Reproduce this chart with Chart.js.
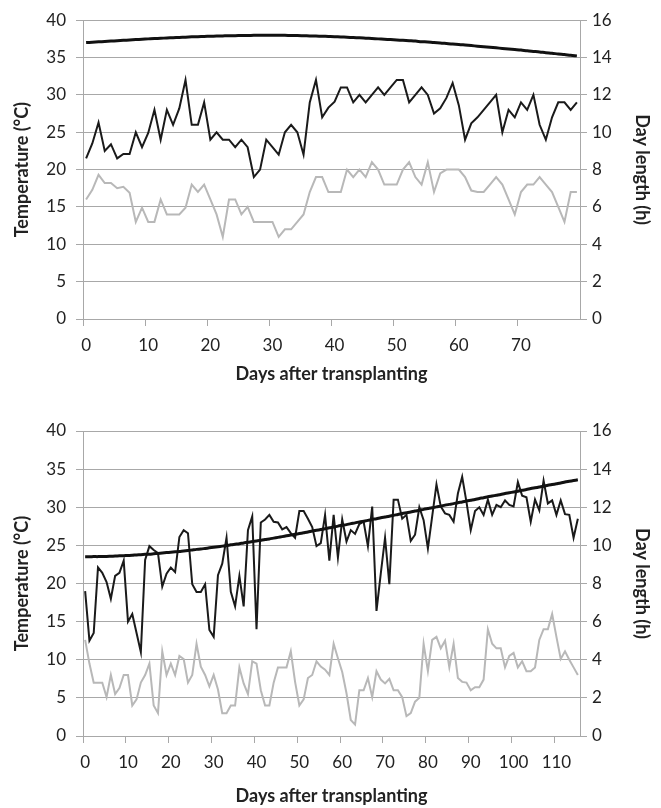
<!DOCTYPE html>
<html>
<head>
<meta charset="utf-8">
<script src="https://cdn.jsdelivr.net/npm/chart.js@4.4.1/dist/chart.umd.min.js"></script>
<style>
  html, body { margin: 0; padding: 0; background: #fff; }
  .box { position: absolute; left: 0; width: 661px; height: 404px; }
</style>
</head>
<body>
<div class="box" style="top:0"><canvas id="chartTop"></canvas></div>
<div class="box" style="top:404px"><canvas id="chartBottom"></canvas></div>
<script>
// top panel: 80 days
const days1 = Array.from({length: 80}, (_, i) => i);
const tickLabels1 = [0, 10, 20, 30, 40, 50, 60, 70];
const maxTemp1 = [21.5, 23.5, 26.3, 22.5, 23.4, 21.5, 22.1, 22.1, 25, 23,
  24.9, 28, 24, 28, 26, 28.2, 32, 26, 26, 29,
  24, 25, 24, 24, 23, 24, 23, 19, 20, 24,
  23, 22, 25, 26, 25, 22, 29, 32, 27, 28.3,
  29.1, 31, 31, 29, 30, 29, 30, 31, 30, 31,
  32, 32, 29, 30, 31, 30, 27.5, 28.2, 29.6, 31.6,
  28.6, 24, 26.2, 27, 28, 29, 30, 25, 28, 27,
  29, 28, 30, 26, 24, 27, 29, 29, 28, 29];
const minTemp1 = [16, 17.3, 19.3, 18.2, 18.2, 17.5, 17.7, 16.9, 13, 14.9,
  13, 13, 16, 14, 14, 14, 14.9, 18, 17, 18,
  16, 14, 11, 16, 16, 14, 15, 13, 13, 13,
  13, 11, 12, 12, 13, 14, 17, 19, 19, 17,
  17, 17, 20, 19, 20, 19, 21, 20, 18, 18,
  18, 20, 21, 19, 18, 21, 17, 19.5, 20, 20,
  20, 19, 17.2, 17, 17, 18, 19, 18, 16, 14,
  17, 18, 18, 19, 18, 17, 15, 13, 17, 17];
const dayLen1 = [14.80, 14.82, 14.84, 14.86, 14.88, 14.90, 14.92, 14.94, 14.96, 14.98,
  15.00, 15.02, 15.03, 15.05, 15.06, 15.08, 15.09, 15.11, 15.12, 15.13,
  15.14, 15.15, 15.16, 15.17, 15.17, 15.18, 15.18, 15.19, 15.19, 15.19,
  15.19, 15.19, 15.19, 15.18, 15.18, 15.17, 15.16, 15.15, 15.14, 15.13,
  15.12, 15.10, 15.09, 15.07, 15.06, 15.04, 15.02, 15.00, 14.98, 14.96,
  14.94, 14.92, 14.90, 14.88, 14.85, 14.83, 14.80, 14.78, 14.75, 14.72,
  14.70, 14.67, 14.64, 14.61, 14.58, 14.55, 14.52, 14.49, 14.46, 14.43,
  14.40, 14.36, 14.33, 14.30, 14.26, 14.23, 14.19, 14.16, 14.12, 14.09];

// bottom panel: 116 days
const days2 = Array.from({length: 116}, (_, i) => i);
const tickLabels2 = [0, 10, 20, 30, 40, 50, 60, 70, 80, 90, 100, 110];
const maxTemp2 = [19, 12.5, 13.5, 22.1, 21.4, 20.2, 18, 21, 21.4, 23,
  15, 16, 13.5, 11, 23.1, 24.9, 24.4, 24, 19.6, 21.3,
  22.1, 21.5, 26.1, 27, 26.6, 19.9, 18.9, 18.9, 19.9, 13.9,
  13, 21.1, 22.6, 26, 18.9, 17, 21, 17, 27, 28.8,
  14, 28, 28.4, 29, 28.1, 28, 27.1, 27.4, 26.6, 26,
  29.5, 29.5, 28.5, 27.4, 24.9, 25.3, 29, 23, 29, 23.4,
  28.4, 25.5, 27, 26.5, 27.8, 28.1, 24.9, 30.1, 16.4, 21.3,
  26, 19.9, 31, 31, 28.5, 29, 25.6, 26.4, 30, 28.3,
  24.6, 28.8, 33, 30.1, 29.2, 29, 28.1, 31.8, 34, 30.7,
  27, 29.5, 30, 29, 31, 29, 30.3, 30, 30.9, 30.3,
  30.1, 33.3, 31.5, 31.3, 28.1, 31, 29.6, 33.5, 30.5, 30.9,
  29, 30.9, 29.1, 29, 26, 28.5];
const minTemp2 = [12.6, 9.5, 7, 7, 7, 5.1, 8, 5.5, 6.3, 8,
  8, 4, 4.8, 7, 8, 9.5, 4, 3, 11.1, 8,
  9.5, 8, 10.5, 10.1, 7, 8, 12.1, 9.1, 8, 6.5,
  8, 6.1, 3, 3, 4, 4, 9, 6.9, 5.5, 9.8,
  9.5, 6, 4, 4, 7, 9, 9, 9, 11.1, 7.1,
  4, 4.8, 7.6, 8, 9.8, 9.1, 8.7, 8, 12.1, 10.2,
  8.4, 5.6, 2.1, 1.5, 6, 6, 7.6, 5.1, 8.5, 7.4,
  6.9, 7.5, 6, 6, 5.1, 2.6, 3, 4.5, 5, 12.1,
  8.5, 12.6, 13, 11.5, 12.5, 9, 12.1, 7.6, 7.1, 7,
  6, 6.4, 6.4, 7.4, 14, 12.1, 11.5, 11.5, 9, 10.5,
  10.9, 9, 9.8, 8.5, 8.5, 9, 12.6, 14, 14, 16,
  13, 10.1, 11.1, 10, 9, 8];
const dayLen2 = [9.40, 9.40, 9.41, 9.41, 9.42, 9.42, 9.43, 9.44, 9.45, 9.46,
  9.47, 9.48, 9.50, 9.51, 9.53, 9.54, 9.56, 9.58, 9.60, 9.62,
  9.64, 9.66, 9.68, 9.71, 9.73, 9.76, 9.79, 9.81, 9.84, 9.87,
  9.90, 9.93, 9.96, 9.99, 10.03, 10.06, 10.09, 10.13, 10.16, 10.20,
  10.23, 10.27, 10.31, 10.34, 10.38, 10.42, 10.46, 10.50, 10.54, 10.58,
  10.62, 10.66, 10.70, 10.75, 10.79, 10.83, 10.87, 10.92, 10.96, 11.01,
  11.05, 11.09, 11.14, 11.18, 11.23, 11.27, 11.31, 11.36, 11.40, 11.45,
  11.49, 11.53, 11.58, 11.62, 11.67, 11.71, 11.75, 11.80, 11.84, 11.89,
  11.93, 11.97, 12.02, 12.06, 12.11, 12.15, 12.19, 12.24, 12.28, 12.33,
  12.37, 12.41, 12.46, 12.50, 12.55, 12.59, 12.63, 12.67, 12.72, 12.76,
  12.80, 12.84, 12.89, 12.93, 12.98, 13.02, 13.06, 13.10, 13.15, 13.19,
  13.23, 13.27, 13.32, 13.36, 13.40, 13.44];

const gridColor = '#a8a8a8';
const textColor = '#222';
const fontFamily = 'Lato, "Liberation Sans", sans-serif';

function makeChart(id, days, tickLabels, maxT, minT, dayLen, padTop, xHeight, titlePadBottom) {
  const ctx = document.getElementById(id).getContext('2d');
  return new Chart(ctx, {
    type: 'line',
    data: {
      labels: days,
      datasets: [
        { data: dayLen, yAxisID: 'y1', borderColor: '#111', borderWidth: 3, pointRadius: 0, tension: 0.3 },
        { data: maxT, yAxisID: 'y', borderColor: '#1a1a1a', borderWidth: 2, pointRadius: 0, tension: 0 },
        { data: minT, yAxisID: 'y', borderColor: '#b8b8b8', borderWidth: 2, pointRadius: 0, tension: 0 }
      ]
    },
    options: {
      responsive: true,
      maintainAspectRatio: false,
      animation: false,
      layout: { padding: { top: padTop, left: 0, right: 0, bottom: 0 } },
      plugins: { legend: { display: false }, tooltip: { enabled: false } },
      scales: {
        x: {
          type: 'category',
          offset: true,
          grid: {
            offset: true,
            drawOnChartArea: false,
            tickLength: 7,
            color: c => (c.index % 10 === 0) ? gridColor : 'rgba(0,0,0,0)'
          },
          border: { color: gridColor },
          ticks: {
            autoSkip: false,
            maxRotation: 0,
            padding: 9,
            color: textColor,
            font: { family: fontFamily, size: 17 },
            callback: function(v) {
              const lab = this.getLabelForValue(v);
              return tickLabels.includes(lab) ? String(lab) : '';
            }
          },
          title: {
            display: true,
            text: 'Days after transplanting',
            color: textColor,
            font: { family: fontFamily, size: 18, weight: 'bold' },
            padding: { top: 0, bottom: titlePadBottom }
          },
          afterFit: s => { s.height = xHeight; }
        },
        y: {
          position: 'left',
          min: 0,
          max: 40,
          grid: { color: gridColor, tickLength: 7 },
          border: { color: gridColor },
          ticks: { stepSize: 5, padding: 10, color: textColor, font: { family: fontFamily, size: 17 } },
          title: {
            display: true,
            text: 'Temperature (°C)',
            color: textColor,
            font: { family: fontFamily, size: 18, weight: 'bold' },
            padding: { top: 11, bottom: 0 }
          },
          afterFit: s => { s.width = 83; }
        },
        y1: {
          position: 'right',
          min: 0,
          max: 16,
          grid: { drawOnChartArea: false, color: gridColor, tickLength: 7 },
          border: { color: gridColor },
          ticks: { stepSize: 2, padding: 5, color: textColor, font: { family: fontFamily, size: 17 } },
          title: {
            display: true,
            text: 'Day length (h)',
            color: textColor,
            font: { family: fontFamily, size: 18, weight: 'bold' },
            padding: { top: 8, bottom: 0 }
          },
          afterFit: s => { s.width = 81; }
        }
      }
    }
  });
}

makeChart('chartTop', days1, tickLabels1, maxTemp1, minTemp1, dayLen1, 15, 85, 19);
makeChart('chartBottom', days2, tickLabels2, maxTemp2, minTemp2, dayLen2, 27, 72, 1);
</script>
</body>
</html>
